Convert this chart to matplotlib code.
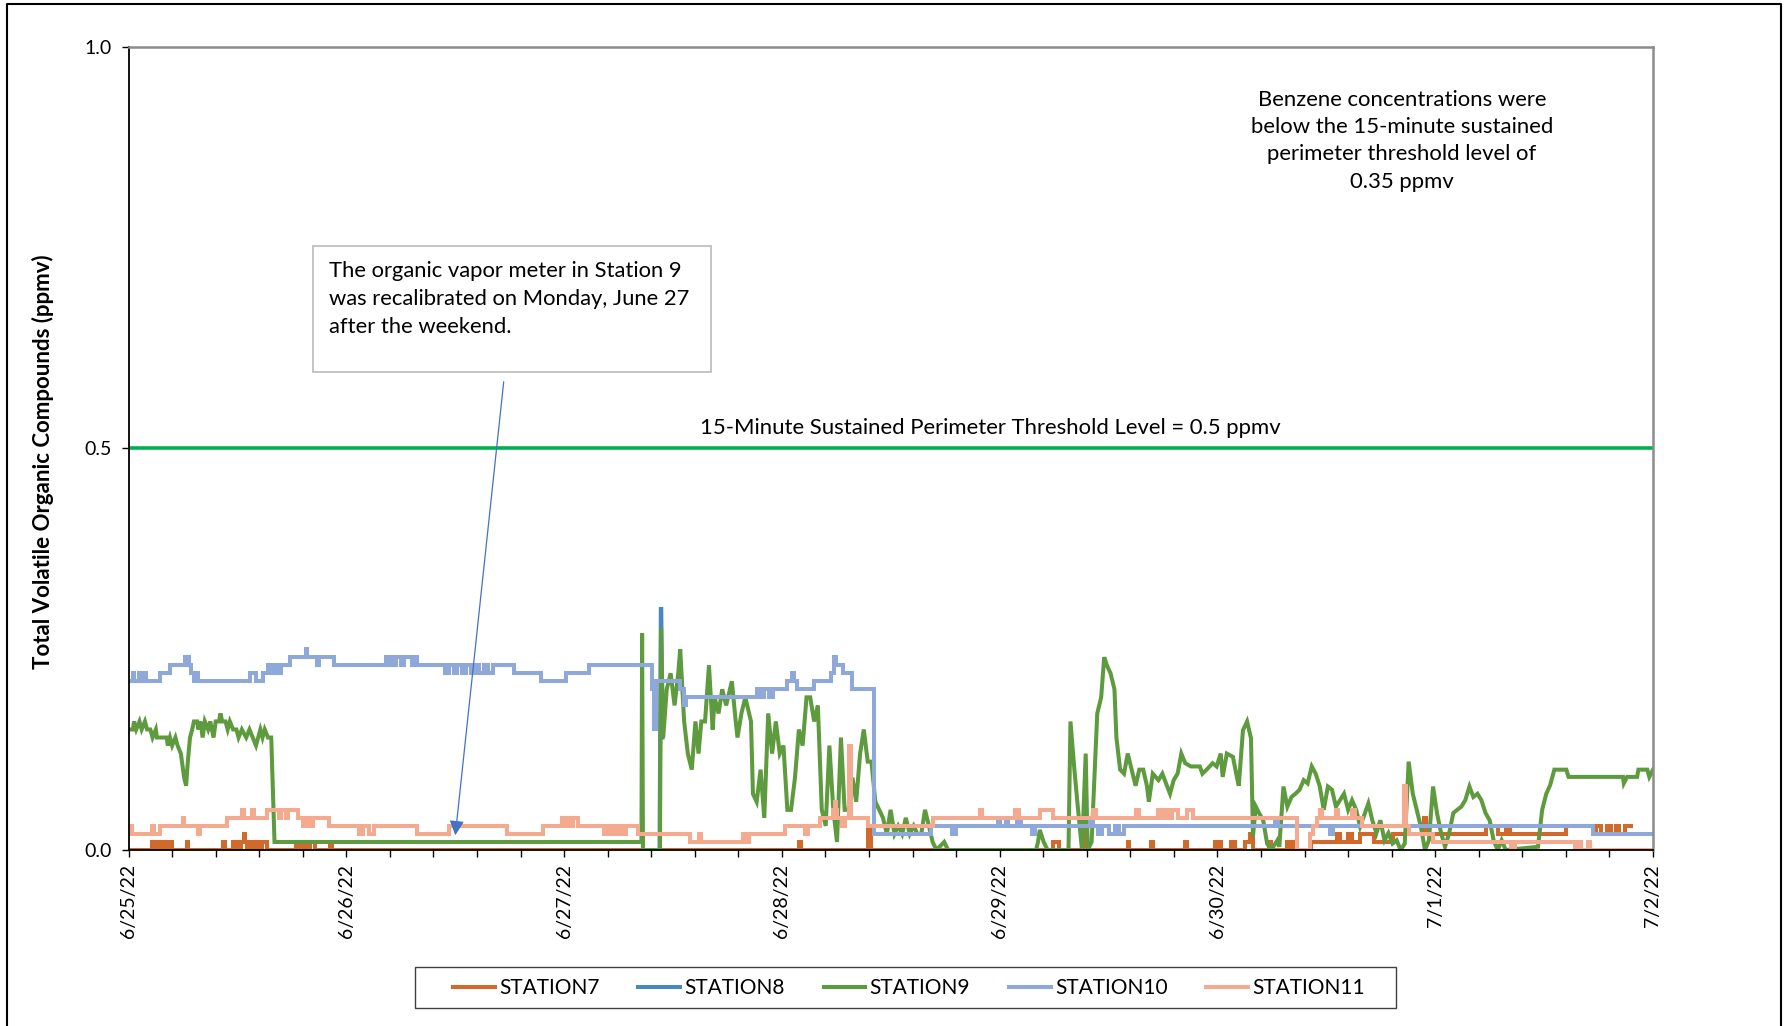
import numpy as np
import matplotlib
matplotlib.use("Agg")
import matplotlib.pyplot as plt
from matplotlib.patches import Rectangle
from matplotlib.lines import Line2D

plt.rcParams['font.family'] = ['Lato', 'DejaVu Sans']

# times are days after 6/25/22 00:00, values in ppmv
start = np.datetime64('2022-06-25T00:00')

t7 = [0.000, 0.109, 0.120, 0.128, 0.144, 0.162, 0.172, 0.180, 0.197, 0.267, 0.275, 0.434, 0.443,
      0.478, 0.488, 0.497, 0.505, 0.515, 0.528, 0.535, 0.545, 0.552, 0.565, 0.572, 0.585, 0.592,
      0.605, 0.612, 0.637, 0.769, 0.785, 0.795, 0.815, 0.835, 0.857, 0.927, 0.936, 3.078, 3.086,
      3.394, 3.411, 4.246, 4.272, 4.390, 4.400, 4.588, 4.596, 4.694, 4.702, 4.852, 4.860, 4.987,
      4.996, 5.005, 5.015, 5.061, 5.080, 5.126, 5.150, 5.163, 5.238, 5.247, 5.321, 5.340, 5.358,
      5.366, 5.430, 5.548, 5.563, 5.600, 5.618, 5.655, 5.720, 5.804, 5.950, 5.958, 6.231, 6.287,
      6.324, 6.342, 6.600, 6.723, 6.740, 6.760, 6.790, 6.805, 6.830, 6.845, 6.870, 6.900]
v7 = [0.00, 0.01, 0.00, 0.01, 0.00, 0.01, 0.00, 0.01, 0.00, 0.01, 0.00, 0.01, 0.00,
      0.01, 0.00, 0.01, 0.00, 0.01, 0.02, 0.01, 0.00, 0.01, 0.00, 0.01, 0.00, 0.01,
      0.00, 0.01, 0.00, 0.01, 0.00, 0.01, 0.00, 0.01, 0.00, 0.01, 0.00, 0.01, 0.00,
      0.03, 0.00, 0.01, 0.00, 0.03, 0.00, 0.01, 0.00, 0.01, 0.00, 0.01, 0.00, 0.01,
      0.00, 0.01, 0.00, 0.01, 0.00, 0.01, 0.02, 0.00, 0.01, 0.00, 0.01, 0.00, 0.01,
      0.00, 0.01, 0.02, 0.01, 0.02, 0.01, 0.02, 0.01, 0.02, 0.04, 0.02, 0.03, 0.02,
      0.03, 0.02, 0.03, 0.02, 0.03, 0.02, 0.03, 0.02, 0.03, 0.02, 0.03, 0.03]

t8 = [2.438, 2.444, 2.446, 2.452]
v8 = [0.00, 0.30, 0.30, 0.14]

t9 = [0.000, 0.020, 0.025, 0.035, 0.050, 0.060, 0.075, 0.085, 0.100, 0.110, 0.125, 0.130, 0.175,
      0.180, 0.190, 0.200, 0.215, 0.225, 0.240, 0.255, 0.264, 0.272, 0.282, 0.292, 0.300, 0.315,
      0.320, 0.330, 0.340, 0.350, 0.365, 0.375, 0.390, 0.400, 0.415, 0.422, 0.430, 0.445, 0.455,
      0.465, 0.480, 0.495, 0.505, 0.520, 0.540, 0.555, 0.570, 0.585, 0.595, 0.605, 0.615, 0.625,
      0.640, 0.655, 0.670, 2.355, 2.358, 2.362, 2.440, 2.445, 2.455, 2.471, 2.489, 2.507, 2.524,
      2.533, 2.551, 2.568, 2.586, 2.603, 2.617, 2.630, 2.647, 2.665, 2.682, 2.691, 2.709, 2.726,
      2.744, 2.770, 2.788, 2.796, 2.814, 2.832, 2.858, 2.867, 2.884, 2.902, 2.919, 2.937, 2.955,
      2.972, 2.990, 3.007, 3.025, 3.042, 3.060, 3.078, 3.095, 3.113, 3.130, 3.148, 3.165, 3.183,
      3.201, 3.218, 3.236, 3.253, 3.271, 3.288, 3.306, 3.324, 3.341, 3.359, 3.376, 3.394, 3.411,
      3.429, 3.447, 3.464, 3.482, 3.499, 3.517, 3.534, 3.552, 3.569, 3.587, 3.605, 3.622, 3.640,
      3.657, 3.675, 3.692, 3.710, 3.745, 3.763, 4.167, 4.176, 4.184, 4.202, 4.220, 4.316, 4.325,
      4.343, 4.360, 4.378, 4.395, 4.404, 4.422, 4.448, 4.466, 4.480, 4.492, 4.509, 4.527, 4.536,
      4.553, 4.571, 4.588, 4.606, 4.624, 4.641, 4.659, 4.676, 4.685, 4.703, 4.729, 4.747, 4.764,
      4.782, 4.799, 4.817, 4.834, 4.852, 4.878, 4.919, 4.931, 4.950, 4.978, 4.996, 5.015, 5.024,
      5.043, 5.071, 5.089, 5.098, 5.117, 5.136, 5.154, 5.163, 5.176, 5.191, 5.210, 5.228, 5.247,
      5.275, 5.284, 5.303, 5.321, 5.340, 5.358, 5.377, 5.396, 5.414, 5.433, 5.451, 5.470, 5.488,
      5.507, 5.526, 5.544, 5.581, 5.600, 5.618, 5.637, 5.655, 5.693, 5.711, 5.730, 5.748, 5.767,
      5.785, 5.804, 5.823, 5.841, 5.860, 5.878, 5.897, 5.915, 5.934, 5.953, 5.971, 5.990, 6.008,
      6.027, 6.045, 6.064, 6.083, 6.101, 6.120, 6.138, 6.157, 6.175, 6.194, 6.212, 6.231, 6.250,
      6.268, 6.287, 6.305, 6.324, 6.472, 6.491, 6.510, 6.528, 6.547, 6.602, 6.612, 6.862, 6.866,
      6.881, 6.927, 6.933, 6.974, 6.983, 7.000]
v9 = [0.15, 0.15, 0.16, 0.15, 0.16, 0.15, 0.16, 0.15, 0.15, 0.14, 0.15, 0.14, 0.14,
      0.13, 0.14, 0.13, 0.14, 0.13, 0.12, 0.09, 0.08, 0.11, 0.14, 0.15, 0.16, 0.16,
      0.15, 0.16, 0.14, 0.16, 0.15, 0.16, 0.14, 0.16, 0.16, 0.17, 0.16, 0.16, 0.15,
      0.16, 0.15, 0.15, 0.14, 0.15, 0.14, 0.15, 0.14, 0.13, 0.14, 0.15, 0.14, 0.15,
      0.14, 0.14, 0.01, 0.01, 0.27, 0.00, 0.00, 0.276, 0.14, 0.20, 0.22, 0.18, 0.22,
      0.25, 0.16, 0.12, 0.10, 0.16, 0.12, 0.16, 0.16, 0.23, 0.15, 0.19, 0.17, 0.20,
      0.18, 0.21, 0.16, 0.14, 0.17, 0.19, 0.16, 0.07, 0.06, 0.10, 0.04, 0.17, 0.12,
      0.16, 0.12, 0.13, 0.05, 0.05, 0.09, 0.15, 0.13, 0.19, 0.19, 0.16, 0.18, 0.05,
      0.03, 0.13, 0.05, 0.01, 0.14, 0.05, 0.05, 0.09, 0.06, 0.12, 0.15, 0.11, 0.11,
      0.06, 0.05, 0.04, 0.02, 0.05, 0.02, 0.03, 0.02, 0.04, 0.02, 0.03, 0.02, 0.02,
      0.05, 0.03, 0.01, 0.00, 0.01, 0.00, 0.00, 0.01, 0.025, 0.01, 0.00, 0.00, 0.16,
      0.10, 0.05, 0.00, 0.12, 0.00, 0.01, 0.17, 0.19, 0.24, 0.23, 0.22, 0.20, 0.14,
      0.10, 0.095, 0.12, 0.10, 0.08, 0.10, 0.10, 0.08, 0.06, 0.095, 0.087, 0.095, 0.083,
      0.07, 0.087, 0.095, 0.12, 0.108, 0.104, 0.104, 0.095, 0.10, 0.108, 0.104, 0.12, 0.091,
      0.12, 0.116, 0.091, 0.08, 0.149, 0.16, 0.139, 0.017, 0.054, 0.046, 0.037, 0.008, 0.00,
      0.012, 0.004, 0.079, 0.054, 0.066, 0.07, 0.075, 0.087, 0.083, 0.104, 0.095, 0.079, 0.05,
      0.079, 0.075, 0.054, 0.07, 0.05, 0.062, 0.05, 0.029, 0.058, 0.037, 0.021, 0.037, 0.012,
      0.021, 0.008, 0.012, 0.00, 0.008, 0.11, 0.07, 0.05, 0.029, 0.00, 0.012, 0.079, 0.046,
      0.021, 0.004, 0.021, 0.046, 0.05, 0.054, 0.062, 0.079, 0.066, 0.07, 0.062, 0.046, 0.037,
      0.012, 0.00, 0.012, 0.00, 0.004, 0.05, 0.07, 0.081, 0.10, 0.10, 0.091, 0.091, 0.083,
      0.091, 0.091, 0.10, 0.10, 0.091, 0.10]

t10 = [0.000, 0.018, 0.026, 0.048, 0.056, 0.072, 0.080, 0.144, 0.188, 0.259, 0.276, 0.285, 0.300,
       0.311, 0.320, 0.558, 0.584, 0.619, 0.640, 0.650, 0.668, 0.680, 0.700, 0.742, 0.813, 0.821,
       0.865, 0.875, 0.945, 1.182, 1.190, 1.205, 1.215, 1.230, 1.250, 1.265, 1.300, 1.310, 1.323,
       1.455, 1.470, 1.495, 1.510, 1.530, 1.550, 1.570, 1.590, 1.610, 1.630, 1.650, 1.675, 1.771,
       1.894, 2.009, 2.114, 2.405, 2.413, 2.420, 2.533, 2.551, 2.560, 2.884, 2.900, 2.920, 2.940,
       2.960, 3.025, 3.045, 3.055, 3.069, 3.148, 3.227, 3.240, 3.250, 3.280, 3.324, 3.425, 3.684,
       3.780, 3.798, 3.990, 4.000, 4.030, 4.040, 4.080, 4.097, 4.150, 4.160, 4.413, 4.430, 4.450,
       4.470, 4.500, 4.530, 4.550, 4.570, 5.266, 5.280, 5.516, 5.530, 6.723, 7.000]
v10 = [0.21, 0.22, 0.21, 0.22, 0.21, 0.22, 0.21, 0.22, 0.23, 0.24, 0.23, 0.22, 0.21,
       0.22, 0.21, 0.22, 0.21, 0.22, 0.23, 0.22, 0.23, 0.22, 0.23, 0.24, 0.25, 0.24,
       0.23, 0.24, 0.23, 0.24, 0.23, 0.24, 0.23, 0.24, 0.23, 0.24, 0.23, 0.24, 0.23,
       0.22, 0.23, 0.22, 0.23, 0.22, 0.23, 0.22, 0.23, 0.22, 0.23, 0.22, 0.23, 0.22,
       0.21, 0.22, 0.23, 0.20, 0.15, 0.21, 0.20, 0.18, 0.19, 0.20, 0.19, 0.20, 0.19,
       0.20, 0.21, 0.22, 0.21, 0.20, 0.21, 0.22, 0.24, 0.23, 0.22, 0.20, 0.02, 0.03,
       0.02, 0.03, 0.04, 0.03, 0.04, 0.03, 0.04, 0.03, 0.02, 0.03, 0.04, 0.03, 0.02,
       0.03, 0.02, 0.03, 0.02, 0.03, 0.04, 0.03, 0.02, 0.03, 0.02, 0.02]

t11 = [0.000, 0.008, 0.015, 0.109, 0.118, 0.144, 0.250, 0.256, 0.320, 0.328, 0.452, 0.522, 0.531,
       0.566, 0.575, 0.637, 0.690, 0.698, 0.725, 0.733, 0.777, 0.800, 0.810, 0.830, 0.845, 0.918,
       1.059, 1.076, 1.103, 1.129, 1.323, 1.472, 1.736, 1.903, 1.991, 2.005, 2.015, 2.030, 2.040,
       2.062, 2.185, 2.195, 2.210, 2.222, 2.237, 2.250, 2.270, 2.285, 2.340, 2.577, 2.620, 2.630,
       2.823, 2.835, 2.850, 3.016, 3.104, 3.120, 3.174, 3.236, 3.243, 3.249, 3.253, 3.275, 3.290,
       3.310, 3.318, 3.394, 3.692, 3.910, 3.921, 4.070, 4.088, 4.184, 4.246, 4.430, 4.440, 4.624,
       4.641, 4.729, 4.745, 4.760, 4.775, 4.790, 4.817, 4.860, 4.887, 5.365, 5.423, 5.440, 5.455,
       5.470, 5.480, 5.545, 5.555, 5.620, 5.630, 5.665, 5.855, 5.865, 5.878, 5.990, 6.350, 6.365,
       6.640, 6.660, 6.670, 6.700, 6.710, 7.000]
v11 = [0.02, 0.03, 0.02, 0.03, 0.02, 0.03, 0.04, 0.03, 0.02, 0.03, 0.04, 0.05, 0.04,
       0.05, 0.04, 0.05, 0.04, 0.05, 0.04, 0.05, 0.04, 0.03, 0.04, 0.03, 0.04, 0.03,
       0.02, 0.03, 0.02, 0.03, 0.02, 0.03, 0.02, 0.03, 0.04, 0.03, 0.04, 0.03, 0.04,
       0.03, 0.02, 0.03, 0.02, 0.03, 0.02, 0.03, 0.02, 0.03, 0.02, 0.01, 0.02, 0.01,
       0.02, 0.01, 0.02, 0.03, 0.02, 0.03, 0.04, 0.05, 0.06, 0.05, 0.04, 0.03, 0.04,
       0.13, 0.04, 0.03, 0.04, 0.05, 0.04, 0.05, 0.04, 0.05, 0.04, 0.05, 0.04, 0.05,
       0.04, 0.05, 0.04, 0.05, 0.04, 0.05, 0.04, 0.05, 0.04, 0.00, 0.02, 0.03, 0.04,
       0.05, 0.04, 0.05, 0.04, 0.05, 0.04, 0.03, 0.08, 0.03, 0.02, 0.01, 0.00, 0.01,
       0.00, 0.01, 0.00, 0.01, 0.00, 0.00]

series = [
    ("STATION7", t7, v7, "#D0692A", "steps-post"),
    ("STATION8", t8, v8, "#4A86C4", "default"),
    ("STATION9", t9, v9, "#5E9A3E", "default"),
    ("STATION10", t10, v10, "#8FA8DA", "steps-post"),
    ("STATION11", t11, v11, "#F3AA8E", "steps-post"),
]

day_labels = ["6/25/22", "6/26/22", "6/27/22", "6/28/22", "6/29/22", "6/30/22", "7/1/22", "7/2/22"]
threshold = 0.5


def to_dates(days):
    return start + (np.array(days) * 86400).round().astype('timedelta64[s]')


W, H = 1784, 1026
fig = plt.figure(figsize=(W / 100, H / 100), dpi=100)
ax = fig.add_axes([128.6 / W, 1 - 850 / H, (1653 - 128.6) / W, (850 - 46.6) / H])

for name, t, v, c, ds in series:
    ax.plot(to_dates(t), v, color=c, lw=2.9, drawstyle=ds, label=name, solid_joinstyle='miter')

ax.axhline(threshold, color='#00B050', lw=2.6, zorder=1)

day_ticks = to_dates(range(len(day_labels)))
ax.set_xlim(day_ticks[0], day_ticks[-1])
ax.set_ylim(0, 1.0)
ax.set_xticks(day_ticks)
ax.set_xticklabels(day_labels, rotation=90, fontsize=14)
ax.xaxis.set_minor_locator(plt.MultipleLocator(0.2))
ax.set_yticks([0, 0.5, 1.0])
ax.set_yticklabels(["0.0", "0.5", "1.0"], fontsize=14)
ax.tick_params(axis='both', which='both', direction='out', length=5, width=1, color='black')
ax.tick_params(axis='x', pad=5)
ax.tick_params(axis='y', pad=7)

ax.spines['left'].set_color('black')
ax.spines['bottom'].set_color('black')
ax.spines['left'].set_linewidth(1.3)
ax.spines['bottom'].set_linewidth(1.3)
ax.spines['top'].set_color('#8C8C8C')
ax.spines['right'].set_color('#8C8C8C')
ax.spines['top'].set_linewidth(1.8)
ax.spines['right'].set_linewidth(1.8)

fig.text(43 / W, 1 - 462 / H, "Total Volatile Organic Compounds (ppmv)", rotation=90,
         ha='center', va='center', fontsize=16, fontweight='bold')

fig.text(990 / W, 1 - 428 / H, "15-Minute Sustained Perimeter Threshold Level = " + f"{threshold} ppmv",
         ha='center', va='center', fontsize=15.9)

fig.text(1402 / W, 1 - 90 / H,
         "Benzene concentrations were\nbelow the 15-minute sustained\nperimeter threshold level of\n0.35 ppmv",
         ha='center', va='top', fontsize=15.9, multialignment='center', linespacing=1.45)

fig.add_artist(Rectangle((313 / W, 1 - 372 / H), (711 - 313) / W, (372 - 246) / H,
                         transform=fig.transFigure, fill=False, edgecolor='#BFBFBF', lw=1.3))
fig.text(329 / W, 1 - 261 / H,
         "The organic vapor meter in Station 9\nwas recalibrated on Monday, June 27\nafter the weekend.",
         ha='left', va='top', fontsize=15.8, linespacing=1.5)
ax.annotate('', xy=(455, H - 838), xycoords='figure pixels', xytext=(504, H - 379),
            textcoords='figure pixels',
            arrowprops=dict(arrowstyle='-|>', color='#4472C4', lw=0.9, mutation_scale=22))

# legend box drawn separately so the inner padding can match
fig.add_artist(Rectangle((415 / W, 1 - 1008 / H), (1396 - 415) / W, (1008 - 967) / H,
                         transform=fig.transFigure, fill=False, edgecolor='#404040', lw=1.0))
leg = ax.legend(loc='center', bbox_to_anchor=(909 / W, 1 - 988 / H), bbox_transform=fig.transFigure,
                ncol=5, fontsize=15, frameon=False, handlelength=2.0,
                handletextpad=0.2, columnspacing=1.87)

# outer chart border (left, top, right)
fig.add_artist(Line2D([7 / W, 7 / W, 1781 / W, 1781 / W], [0, 1 - 4 / H, 1 - 4 / H, 0],
                      transform=fig.transFigure, color='black', lw=1.5))

fig.savefig("out.png", dpi=100)
